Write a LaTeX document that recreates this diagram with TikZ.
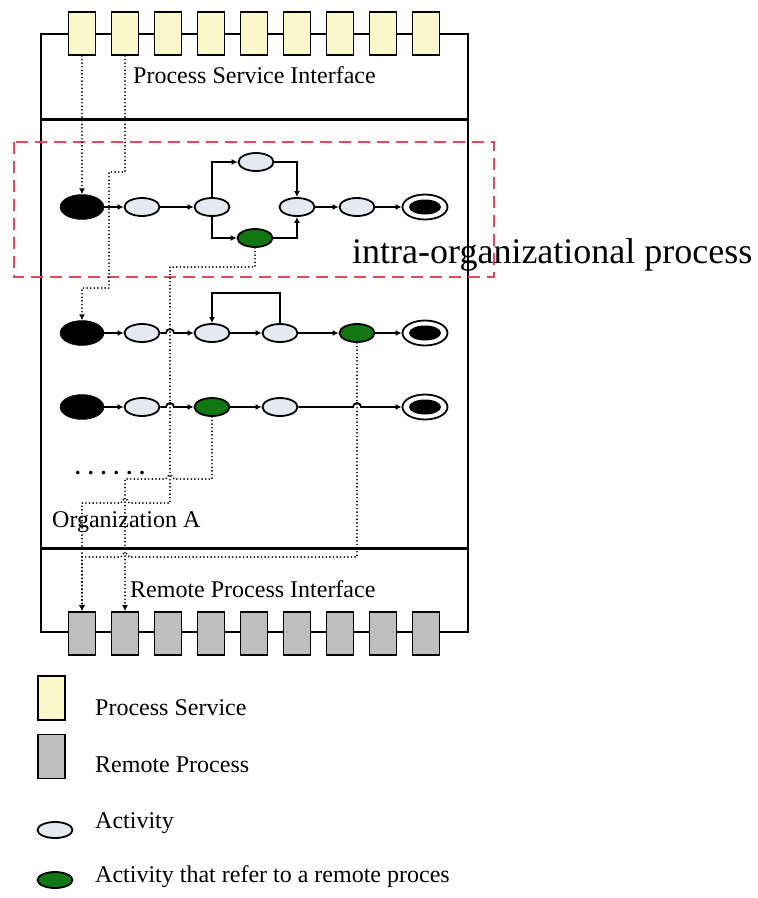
\documentclass[tikz,border=0pt]{standalone}
\usepackage{fontspec}
\setmainfont{Liberation Serif}
\usetikzlibrary{arrows.meta,shapes.geometric}
\definecolor{svcyellow}{RGB}{250,247,202}
\definecolor{rpgray}{RGB}{190,190,190}
\definecolor{actfill}{RGB}{228,233,242}
\definecolor{remgreen}{RGB}{18,118,18}
\definecolor{intrared}{RGB}{228,72,92}

\begin{document}
\begin{tikzpicture}[x=1pt,y=1pt,
  svc/.style={draw, line width=1.8pt, fill=svcyellow, minimum width=27pt, minimum height=43pt, inner sep=0pt},
  rproc/.style={svc, fill=rpgray},
  act/.style={ellipse, draw, line width=1.8pt, fill=actfill, minimum width=35pt, minimum height=18pt, inner sep=0pt},
  remact/.style={act, fill=remgreen},
  startnd/.style={ellipse, draw, fill=black, minimum width=44pt, minimum height=25pt, inner sep=0pt},
  endnd/.style={ellipse, draw, line width=1.8pt, fill=white, minimum width=45pt, minimum height=25pt, inner sep=0pt,
    path picture={\fill[black] (path picture bounding box.center) ellipse[x radius=16pt, y radius=7.5pt];}},
  flow/.style={line width=1.8pt, -{Latex[length=6pt,width=6pt]}},
  link/.style={line width=1.9pt, line cap=round, dash pattern=on 0pt off 3.6pt, -{Latex[length=6pt,width=6pt]}},
  lbl/.style={font=\fontsize{24}{28}\selectfont, anchor=base west, inner sep=0pt},
]
\useasboundingbox (0,0) rectangle (758,-898);

% outer frame and the two separators
\draw[line width=2pt] (41,-34) -- (468,-34) -- (468,-632) -- (41,-632) -- cycle;
\draw[line width=3pt] (41,-119) -- (468,-119);
\draw[line width=3pt] (41,-548) -- (468,-548);

% process service boxes (top) and remote process boxes (bottom)
\foreach \x [count=\i] in {82,125,168,211,254,297,340,383,426} {
  \node[svc] (ps\i) at (\x,-33.5) {};
  \node[rproc] (rp\i) at (\x,-633.5) {};
}

\node[lbl] (psi) at (133,-83) {Process Service Interface};
\node[lbl] (orga) at (52,-527) {Organization A};
\node[lbl] (rpi) at (130,-597) {Remote Process Interface};

% intra-organizational process region
\draw[intrared, line width=2.4pt, dash pattern=on 12pt off 7pt] (14,-142) rectangle (494,-277);
\node[lbl, font=\fontsize{36}{40}\selectfont] (intra) at (352,-263) {intra-organizational process};

% row 1
\node[startnd] (s1) at (82,-207) {};
\node[act] (a11) at (142,-207) {};
\node[act] (a12) at (212,-207) {};
\node[act] (a13) at (256,-162) {};
\node[remact] (g1) at (255,-238) {};
\node[act] (a14) at (297,-207) {};
\node[act] (a15) at (357,-207) {};
\node[endnd] (e1) at (425,-207) {};
\draw[flow] (s1) -- (a11);
\draw[flow] (a11) -- (a12);
\draw[flow] (a12.north) |- (a13.west);
\draw[flow] (a13.east) -| (a14.north);
\draw[flow] (a12.south) |- (g1.west);
\draw[flow] (g1.east) -| (a14.south);
\draw[flow] (a14) -- (a15);
\draw[flow] (a15) -- (e1);

% row 2
\node[startnd] (s2) at (82,-333) {};
\node[act] (a21) at (142,-333) {};
\node[act] (a22) at (212,-333) {};
\node[act] (a23) at (280,-333) {};
\node[remact] (g2) at (357,-333) {};
\node[endnd] (e2) at (425,-333) {};
\draw[flow] (s2) -- (a21);
\draw[flow] (a21) -- (166,-333) arc[start angle=180, end angle=0, radius=4pt] -- (a22);
\draw[flow] (a22) -- (a23);
\draw[flow] (a23.north) -- (280,-293) -- (212,-293) -- (a22.north);
\draw[flow] (a23) -- (g2);
\draw[flow] (g2) -- (e2);

% row 3
\node[startnd] (s3) at (82,-407) {};
\node[act] (a31) at (142,-407) {};
\node[remact] (g3) at (212,-407) {};
\node[act] (a32) at (280,-407) {};
\node[endnd] (e3) at (425,-407) {};
\draw[flow] (s3) -- (a31);
\draw[flow] (a31) -- (166,-407) arc[start angle=180, end angle=0, radius=4pt] -- (g3);
\draw[flow] (g3) -- (a32);
\draw[flow] (a32) -- (353,-407) arc[start angle=180, end angle=0, radius=4pt] -- (e3);

\node[inner sep=0pt, anchor=base west, font=\fontsize{22}{24}\selectfont\bfseries] (more) at (75,-474) {. . . . . .};

% references between services, processes and remote processes
\draw[link] (ps1.south) -- (s1.north);
\draw[link] (ps2.south) -- (125,-172) -- (109,-172) -- (109,-288) -- (82,-288) -- (s2.north);
\draw[link] (g1.south) -- (255,-267) -- (170,-267) -- (170,-503) -- (129,-503)
  arc[start angle=0, end angle=180, radius=4pt] -- (82,-503) -- (rp1.north);
\draw[link] (g3.south) -- (212,-479) -- (174,-479)
  arc[start angle=0, end angle=180, radius=4pt] -- (125,-479) -- (rp2.north);
\draw[link] (g2.south) -- (357,-557) -- (129,-557)
  arc[start angle=0, end angle=180, radius=4pt] -- (82,-557) -- (rp1.north);

% legend
\node[svc, minimum height=44pt] (legsvc) at (51.5,-698) {};
\node[rproc, minimum height=44pt] (legrp) at (51.5,-756.5) {};
\node[act, minimum height=16pt] (legact) at (55,-830) {};
\node[remact, minimum height=16pt] (legrem) at (55,-880) {};
\node[lbl] (t1) at (95,-715) {Process Service};
\node[lbl] (t2) at (95,-772) {Remote Process};
\node[lbl] (t3) at (95,-828) {Activity};
\node[lbl] (t4) at (95,-882) {Activity that refer to a remote proces};
\end{tikzpicture}
\end{document}
